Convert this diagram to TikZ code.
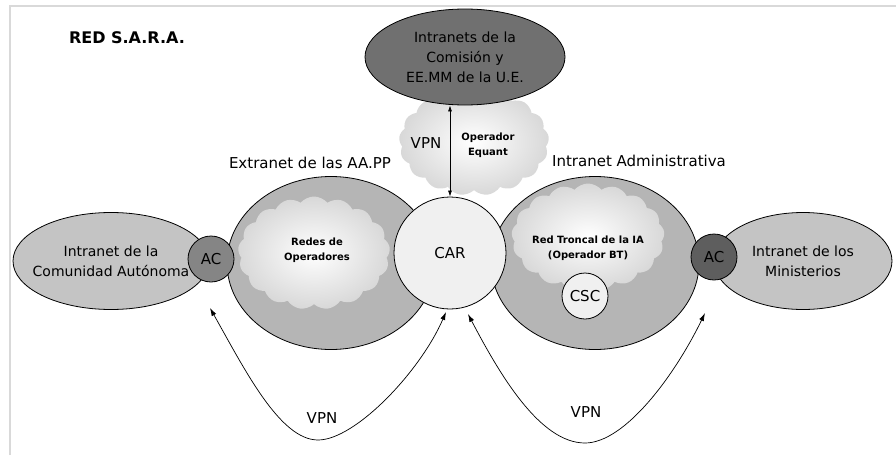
\documentclass[tikz,border=0pt]{standalone}
\usepackage{fontspec}
\setmainfont{DejaVu Sans}
\usetikzlibrary{shapes.geometric, shapes.symbols, arrows.meta}

\definecolor{biggray}{gray}{0.71}
\definecolor{smallgray}{gray}{0.77}
\definecolor{topgray}{gray}{0.44}
\definecolor{acgray}{gray}{0.52}
\definecolor{acdark}{gray}{0.37}
\definecolor{cargray}{gray}{0.94}
\pgfdeclareradialshading{cloudshade}{\pgfpoint{0bp}{0bp}}{color(0bp)=(white); color(8bp)=(white!95!black); color(36bp)=(black!22); color(50bp)=(black!22)}

\begin{document}
\begin{tikzpicture}[x=1pt, y=-1pt,
    oval/.style={ellipse, draw, line width=0.8pt, inner sep=0pt, align=center, font=\fontsize{14}{20}\selectfont},
    bigoval/.style={oval, fill=biggray, minimum width=208pt, minimum height=173pt},
    smalloval/.style={oval, fill=smallgray, minimum width=196pt, minimum height=97pt, inner xsep=-12pt},
    roundnode/.style={circle, draw, line width=0.8pt, inner sep=0pt, font=\fontsize{15}{18}\selectfont},
    nube/.style={cloud, cloud puffs=17, cloud puff arc=100, cloud ignores aspect, shade, shading=cloudshade, inner sep=0pt},
    smalllabel/.style={align=center, font=\fontsize{10}{15}\selectfont\bfseries},
    biglabel/.style={font=\fontsize{15}{18}\selectfont},
    vpnarrow/.style={line width=0.7pt, {Latex[length=8pt,width=5pt]}-{Latex[length=8pt,width=5pt]}}
]

            \useasboundingbox (0,0) rectangle (896,455);
            \draw[gray!30, line width=1.2pt] (10,455) -- (10,6) -- (896,6);

            \node[font=\fontsize{16}{18}\selectfont\bfseries] (titulo) at (127,38) {RED S.A.R.A.};

            \node[nube, minimum width=150pt, minimum height=107pt] (equant) at (474,142) {};
            \node[oval, fill=topgray, minimum width=200pt, minimum height=96pt] (comision) at (465,57) {Intranets de la\\Comisión y\\EE.MM de la U.E.};

            \node[smalloval] (comunidad) at (111,261) {Intranet de la\\Comunidad Autónoma};
            \node[smalloval, minimum width=178pt] (ministerios) at (803,261) {Intranet de los\\Ministerios};

            \node[bigoval] (extranet) at (331,263) {};
            \node[bigoval] (intranet) at (595,263) {};

            \node[nube, minimum width=152pt, minimum height=113pt] (operadores) at (314,253) {};
            \node[nube, minimum width=153pt, minimum height=107pt] (troncal) at (588,237) {};

            \node[smalllabel] (redesop) at (317,250) {Redes de\\Operadores};
            \node[smalllabel] (redtroncal) at (588,248) {Red Troncal de la IA\\(Operador BT)};

            \node[roundnode, fill=cargray, minimum size=46pt] (csc) at (585,296) {CSC};
            \node[roundnode, fill=acgray, minimum size=46pt] (acl) at (211,259) {AC};
            \node[roundnode, fill=acdark, minimum size=46pt] (acr) at (714,257) {AC};
            \node[roundnode, fill=cargray, minimum size=112pt] (car) at (450,253) {CAR};

            \draw[line width=0.7pt, {Latex[length=6pt,width=4pt]}-{Latex[length=6pt,width=4pt]}] (car.north) -- (car.north |- comision.south);
            \node[biglabel] (vpntop) at (426,143) {VPN};
            \node[smalllabel] (equantlbl) at (488,145) {Operador\\Equant};

            \node[biglabel] (extlbl) at (310,163) {Extranet de las AA.PP};
            \node[biglabel] (intlbl) at (639,161) {Intranet Administrativa};

            \coordinate (vpnLa) at (210,308);
            \coordinate (vpnLb) at (318,440);
            \coordinate (vpnLc) at (446,312);
            \coordinate (vpnRa) at (468,314);
            \coordinate (vpnRb) at (585,443);
            \coordinate (vpnRc) at (705,313);

            \draw[vpnarrow] (vpnLa) .. controls (245,370) and (280,440) .. (vpnLb) .. controls (355,440) and (420,372) .. (vpnLc);
            \draw[vpnarrow] (vpnRa) .. controls (500,375) and (540,443) .. (vpnRb) .. controls (625,443) and (675,375) .. (vpnRc);

            \node[biglabel] (vpnleft) at (322,418) {VPN};
            \node[biglabel] (vpnright) at (586,412) {VPN};

\end{tikzpicture}
\end{document}
